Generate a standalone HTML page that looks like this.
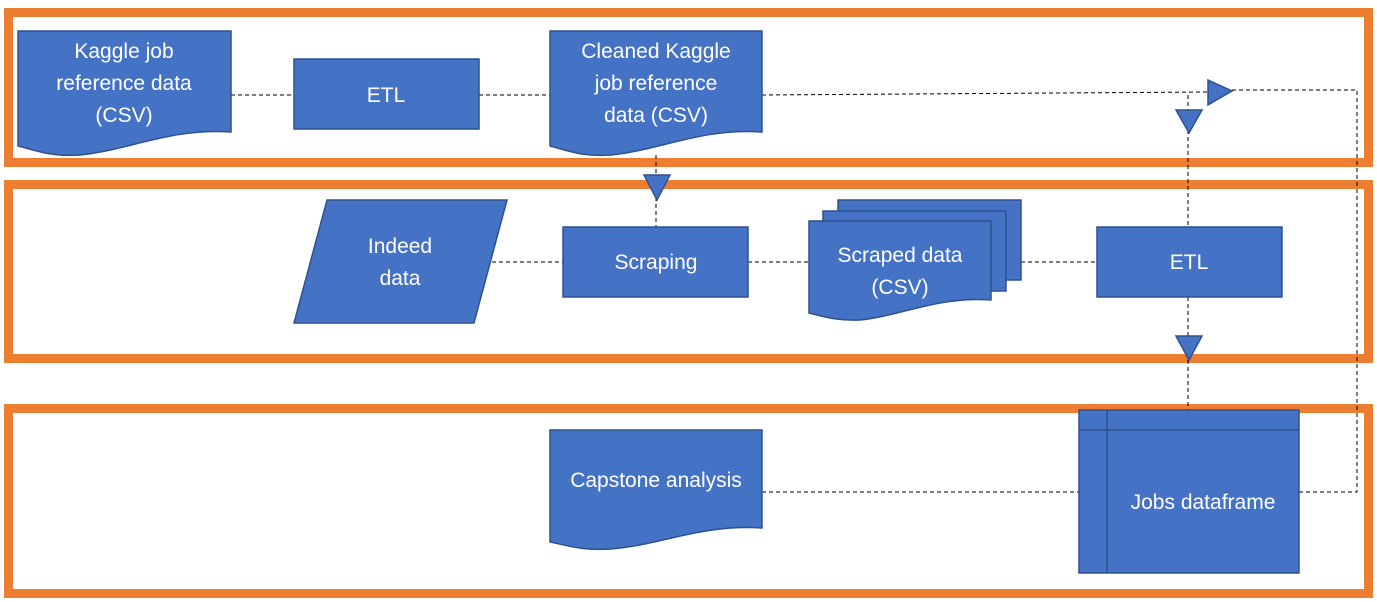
<!DOCTYPE html>
<html><head><style>body{margin:0;background:#fff}svg{display:block}text{font-family:"Liberation Sans",sans-serif;font-size:21px;fill:#fff;text-anchor:middle}</style></head><body>
<svg width="1377" height="602" viewBox="0 0 1377 602">
<g fill="none" stroke="#ED7D31" stroke-width="9">
<rect x="8.5" y="12.5" width="1360" height="150"/>
<rect x="8.5" y="184.5" width="1360" height="174"/>
<rect x="8.5" y="408.5" width="1360" height="185"/>
</g>
<g fill="none" stroke="#000" stroke-width="1" stroke-dasharray="4,3">
<path d="M231 95H294M479 95H550M762 95L1208 92M1232 90H1357V492H1299"/>
<path d="M1188 95V227M1188 297V410M656 155V227"/>
<path d="M485 262H563M748 262H809M1021 262H1097M762 492H1079"/>
</g>
<g fill="#4472C4" stroke="#2F528F" stroke-width="1.5">
<path d="M18 31H231V132C170 128 130 150 80 155C50 157 35 150 18 146Z"/>
<rect x="294" y="59" width="185" height="70"/>
<path d="M550 31H762V132C701 128 661 150 611 155C581 157 566 150 550 146Z"/>
<path d="M327 200H507L474 323H294Z"/>
<rect x="563" y="227" width="185" height="70"/>
<rect x="838" y="200" width="183" height="80"/>
<rect x="823" y="211" width="183" height="80"/>
<path d="M809 221H991V300C940 296 900 316 860 320C835 321 822 316 809 313Z"/>
<rect x="1097" y="227" width="185" height="70"/>
<path d="M550 430H762V528C701 524 661 545 611 549C581 551 566 545 550 542Z"/>
<rect x="1079" y="410" width="220" height="163"/>
<path d="M1079 430H1299M1107 410V573" fill="none"/>
<path d="M644 175H670L657 200Z"/>
<path d="M1176 110H1202L1189 133Z"/>
<path d="M1176 336H1202L1189 360Z"/>
<path d="M1208 80L1232 91L1208 105Z"/>
</g>
<text x="124" y="58">Kaggle job</text>
<text x="124" y="90">reference data</text>
<text x="124" y="122">(CSV)</text>
<text x="386" y="102">ETL</text>
<text x="656" y="58">Cleaned Kaggle</text>
<text x="656" y="90">job reference</text>
<text x="656" y="122">data (CSV)</text>
<text x="400" y="253">Indeed</text>
<text x="400" y="285">data</text>
<text x="656" y="269">Scraping</text>
<text x="900" y="262">Scraped data</text>
<text x="900" y="294">(CSV)</text>
<text x="1189" y="269">ETL</text>
<text x="656" y="487">Capstone analysis</text>
<text x="1203" y="509">Jobs dataframe</text>
</svg>
</body></html>
